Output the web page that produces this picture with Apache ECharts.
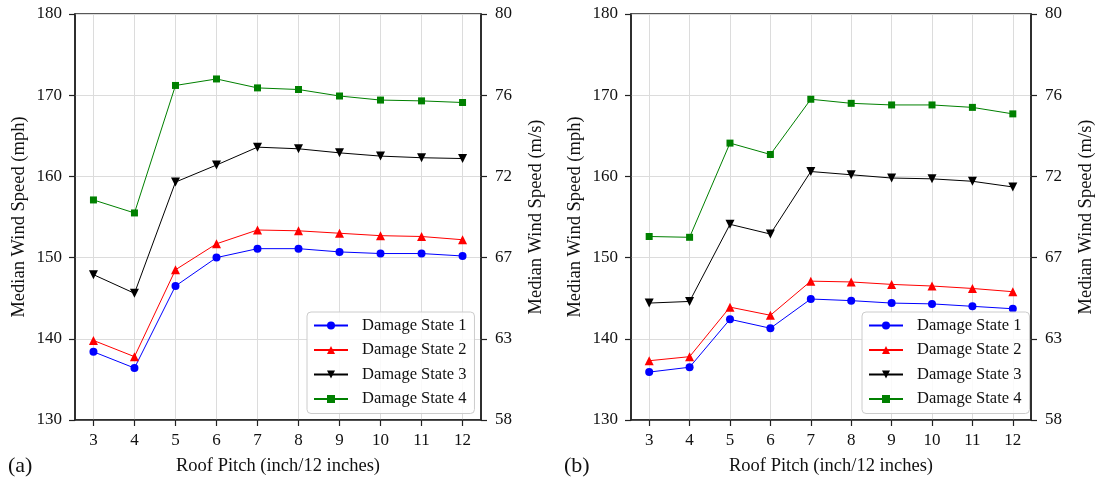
<!DOCTYPE html>
<html>
<head>
<meta charset="utf-8">
<script src="https://cdn.jsdelivr.net/npm/echarts@6/dist/echarts.min.js"></script>
<style>
  html, body { margin: 0; padding: 0; background: #fff; }
  #chart { width: 1097px; height: 481px; }
</style>
</head>
<body>
<div id="chart"></div>
<script>
// Roof pitch (inch per 12 inches)
const pitch = [3, 4, 5, 6, 7, 8, 9, 10, 11, 12];

// Panel (a): median wind speed, mph
const aDS1 = [138.4, 136.4, 146.5, 150.0, 151.1, 151.1, 150.7, 150.5, 150.5, 150.2];
const aDS2 = [139.8, 137.8, 148.5, 151.7, 153.4, 153.3, 153.0, 152.7, 152.6, 152.2];
const aDS3 = [147.9, 145.6, 159.3, 161.4, 163.6, 163.4, 162.9, 162.5, 162.3, 162.2];
const aDS4 = [157.1, 155.5, 171.2, 172.0, 170.9, 170.7, 169.9, 169.4, 169.3, 169.1];

// Panel (b): median wind speed, mph
const bDS1 = [135.9, 136.5, 142.4, 141.3, 144.9, 144.7, 144.4, 144.3, 144.0, 143.7];
const bDS2 = [137.3, 137.8, 143.9, 142.9, 147.1, 147.0, 146.7, 146.5, 146.2, 145.8];
const bDS3 = [144.4, 144.6, 154.1, 152.9, 160.6, 160.2, 159.8, 159.7, 159.4, 158.7];
const bDS4 = [152.6, 152.5, 164.1, 162.7, 169.5, 169.0, 168.8, 168.8, 168.5, 167.7];

const seriesNames = ['Damage State 1', 'Damage State 2', 'Damage State 3', 'Damage State 4'];
const panelLabels = ['(a)', '(b)'];

const FONT = 'Liberation Serif';
const MPH_TO_MS = 0.44704;

const styles = [
  { color: '#0000ff', symbol: 'circle', size: 8, rotate: 0 },
  { color: '#ff0000', symbol: 'triangle', size: 9, rotate: 0 },
  { color: '#000000', symbol: 'triangle', size: 9, rotate: 180 },
  { color: '#008000', symbol: 'rect', size: 7, rotate: 0 }
];

const panels = [
  { data: [aDS1, aDS2, aDS3, aDS4], left: 75, legendLeft: 307, labelLeft: 8 },
  { data: [bDS1, bDS2, bDS3, bDS4], left: 631, legendLeft: 862, labelLeft: 564 }
];

const PLOT_W = 406, PLOT_H = 406, PLOT_TOP = 14;

const grid = [], xAxis = [], yAxis = [], series = [], legend = [], graphic = [];

panels.forEach((p, i) => {
  grid.push({
    left: p.left, top: PLOT_TOP, width: PLOT_W, height: PLOT_H,
    show: true, borderColor: '#222', borderWidth: 1.5, backgroundColor: 'transparent'
  });

  xAxis.push({
    type: 'value', gridIndex: i, min: 2.55, max: 12.45,
    name: 'Roof Pitch (inch/12 inches)', nameLocation: 'middle', nameGap: 37,
    nameTextStyle: { fontFamily: FONT, fontSize: 18.5, color: '#111' },
    axisLine: { show: true, lineStyle: { color: '#222', width: 1.5 } },
    axisTick: { show: true, inside: false, length: 6, lineStyle: { color: '#222', width: 1.2 }, customValues: pitch },
    axisLabel: { customValues: pitch, fontFamily: FONT, fontSize: 17, color: '#111', margin: 12 },
    splitLine: { show: true, lineStyle: { color: '#dcdcdc', width: 1 } }
  });

  const yCommon = {
    type: 'value', gridIndex: i, min: 130, max: 180, interval: 10,
    nameLocation: 'middle', nameRotate: 90,
    nameTextStyle: { fontFamily: FONT, fontSize: 18.5, color: '#111' },
    axisLine: { show: true, lineStyle: { color: '#222', width: 1.5 } },
    axisTick: { show: true, inside: false, length: 6, lineStyle: { color: '#222', width: 1.2 } }
  };

  yAxis.push(Object.assign({}, yCommon, {
    position: 'left', name: 'Median Wind Speed (mph)', nameGap: 46,
    axisLabel: { fontFamily: FONT, fontSize: 17, color: '#111', margin: 13 },
    splitLine: { show: true, lineStyle: { color: '#dcdcdc', width: 1 } }
  }));

  yAxis.push(Object.assign({}, yCommon, {
    position: 'right', name: 'Median Wind Speed (m/s)', nameGap: 46,
    axisLabel: {
      fontFamily: FONT, fontSize: 17, color: '#111', margin: 14,
      formatter: v => String(Math.round(v * MPH_TO_MS))
    },
    splitLine: { show: false }
  }));

  p.data.forEach((vals, k) => {
    const s = styles[k];
    series.push({
      name: seriesNames[k], type: 'line',
      xAxisIndex: i, yAxisIndex: i * 2,
      data: pitch.map((x, j) => [x, vals[j]]),
      symbol: s.symbol, symbolSize: s.size, symbolRotate: s.rotate,
      showAllSymbol: true,
      lineStyle: { color: s.color, width: 1 },
      itemStyle: { color: s.color },
      emphasis: { disabled: true },
      animation: false
    });
  });

  legend.push({
    data: seriesNames, orient: 'vertical',
    left: p.legendLeft, top: 312,
    padding: [5, 8, 6, 6], itemGap: 7.5, itemWidth: 34, itemHeight: 10,
    borderColor: '#cccccc', borderWidth: 1, borderRadius: 4,
    backgroundColor: 'rgba(255,255,255,0.85)',
    textStyle: { fontFamily: FONT, fontSize: 16.5, color: '#111', padding: [0, 0, 0, 9] },
    selectedMode: false
  });

  graphic.push({
    type: 'text', left: p.labelLeft, top: 455,
    style: { text: panelLabels[i], fontFamily: FONT, fontSize: 22, fill: '#111' }
  });
});

const chart = echarts.init(document.getElementById('chart'), null, { renderer: 'canvas' });
chart.setOption({
  animation: false,
  backgroundColor: '#ffffff',
  grid, xAxis, yAxis, series, legend, graphic
});
</script>
</body>
</html>
